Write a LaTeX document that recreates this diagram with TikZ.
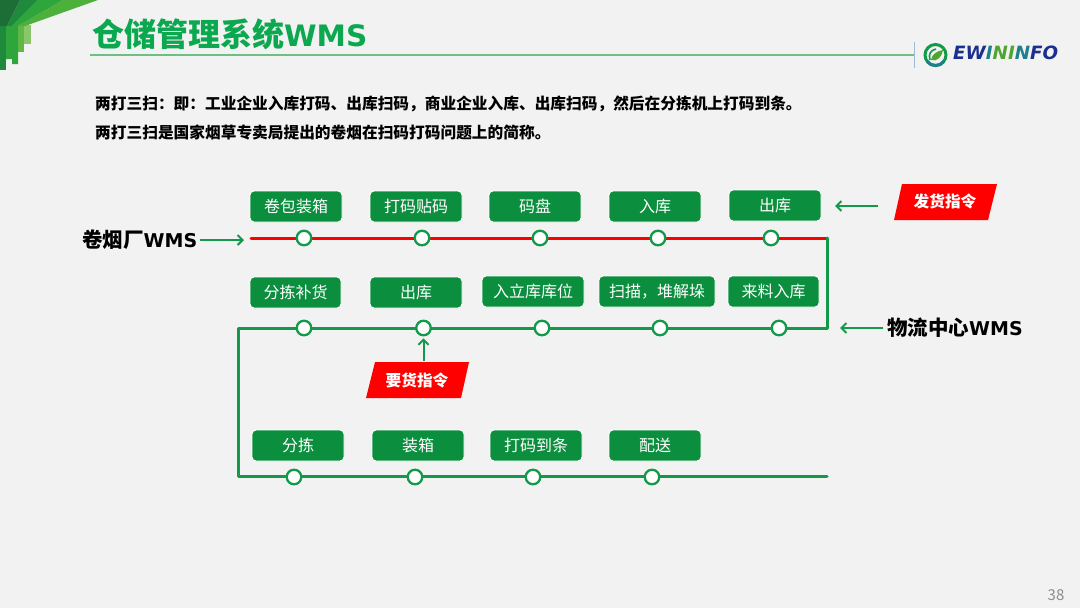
\documentclass[tikz,border=0pt]{standalone}
\usepackage{fontspec}
\setmainfont{Noto Sans CJK SC}
\newfontfamily\latinbold{DejaVu Sans}
\definecolor{bg}{HTML}{F2F2F2}
\definecolor{boxgreen}{HTML}{0B8F3E}
\definecolor{linegreen}{HTML}{12994A}
\definecolor{titlegreen}{HTML}{0BA84F}
\definecolor{rulegreen}{HTML}{6CC084}
\definecolor{redc}{HTML}{FF0000}
\definecolor{tickblue}{HTML}{9DBBD6}
\definecolor{logoblue}{HTML}{1B2F8F}
\definecolor{logoteal}{HTML}{1F7F8A}
\definecolor{logogreen}{HTML}{4FA52F}
\definecolor{c1}{HTML}{1C6E36}
\definecolor{c2}{HTML}{1F8A3C}
\definecolor{c3}{HTML}{2FA63C}
\definecolor{c4}{HTML}{4DB03A}
\definecolor{c5}{HTML}{62B845}
\definecolor{c6}{HTML}{8CC66A}
\tikzset{x=1pt,y=-1pt,
 stepbox/.style={draw=white,line width=0.9pt,fill=boxgreen,rounded corners=4pt,minimum width=92pt,minimum height=31pt,inner sep=0pt,text=white,font=\fontsize{16pt}{17pt}\selectfont},
 stop/.style={circle,draw=linegreen,fill=white,line width=2.3pt,minimum size=14.5pt,inner sep=0pt},
 rail/.style={linegreen,line width=3pt,line cap=round,line join=round},
 redrail/.style={redc,line width=3pt,line cap=round},
 arrowg/.style={linegreen,line width=2pt,-{Straight Barb[length=5pt,width=10pt,line width=2pt]}},
 cmdtext/.style={text=white,font=\fontsize{15.7pt}{17pt}\bfseries\selectfont,inner sep=0pt},
 wmslabel/.style={text=black,font=\fontsize{20.5pt}{22pt}\bfseries\selectfont,inner sep=0pt},
 intro/.style={anchor=west,text=black,font=\fontsize{15.7pt}{17pt}\bfseries\selectfont,inner sep=0pt}
}
\usetikzlibrary{arrows.meta}
\newcommand{\wmsword}[1]{{\latinbold\fontsize{#1}{#1}\bfseries\selectfont WMS}}
\begin{document}
\begin{tikzpicture}
\useasboundingbox (0,0) rectangle (1080,608);
\fill[bg] (0,0) rectangle (1080,608);
% corner decoration
\fill[c6] (24,25) -- (31,25) -- (31,44) -- (24,44) -- cycle;
\fill[c5] (18,26) -- (24,26) -- (24,52) -- (18,52) -- cycle;
\fill[c3] (6,26) -- (18,26) -- (18,64) -- (12,64) -- (12,59) -- (6,59) -- cycle;
\fill[c2] (0,26) -- (6,26) -- (6,70) -- (0,70) -- cycle;
\fill[c4] (63,0) -- (98,0) -- (25,26) -- (18,26) -- cycle;
\fill[c3] (38,0) -- (63,0) -- (18,26) -- (12,26) -- cycle;
\fill[c2] (20,0) -- (38,0) -- (12,26) -- (7,26) -- cycle;
\fill[c1] (0,0) -- (20,0) -- (7,26) -- (0,26) -- cycle;
% title
\node[anchor=west,inner sep=0pt,text=titlegreen,font=\fontsize{32pt}{34pt}\bfseries\selectfont] (title) at (92,34) {仓储管理系统\wmsword{29.5pt}};
\coordinate (ruleL) at (90,55);
\coordinate (ruleR) at (914,55);
\draw[rulegreen,line width=1.2pt] (ruleL) -- (ruleR);
\coordinate (tickT) at (914,42);
\coordinate (tickB) at (914,68);
\draw[tickblue,line width=0.8pt] (tickT) -- (tickB);
% logo
\draw[linegreen,line width=3pt] (935.5,55) circle (10.5);
\draw[logoteal,line width=3pt] (927,61.2) .. controls (931,67) and (940,67) .. (944,61.2);
\fill[logogreen] (931,60) .. controls (932,54) and (937,51) .. (943,50) .. controls (942,57) and (937,62) .. (931,60) -- cycle;
\draw[linegreen,line width=1.6pt] (930,60) .. controls (928,54) and (931,50) .. (936,49);
\node[anchor=west,inner sep=0pt,font=\latinbold\fontsize{18.3pt}{20pt}\bfseries\itshape\selectfont] (logo) at (953,53) {\textcolor{logoblue}{E}\textcolor{logoblue}{W}\textcolor{logoteal}{I}\textcolor{logogreen}{NI}\textcolor{logoteal}{N}\textcolor{logoblue}{FO}};
% intro
\node[intro] (l1) at (95,104) {两打三扫：即：工业企业入库打码、出库扫码，商业企业入库、出库扫码，然后在分拣机上打码到条。};
\node[intro] (l2) at (95,133) {两打三扫是国家烟草专卖局提出的卷烟在扫码打码问题上的简称。};
% row 1 boxes
\node[stepbox] (a1) at (296,206.5) {卷包装箱};
\node[stepbox] (a2) at (416,206.5) {打码贴码};
\node[stepbox] (a3) at (535,206.5) {码盘};
\node[stepbox] (a4) at (655,206.5) {入库};
\node[stepbox] (a5) at (775,205.5) {出库};
% row 2 boxes
\node[stepbox,minimum width=91pt] (b1) at (295.5,292.5) {分拣补货};
\node[stepbox] (b2) at (416,292.5) {出库};
\node[stepbox,minimum width=102pt] (b3) at (533,291.5) {入立库库位};
\node[stepbox,minimum width=116pt] (b4) at (657,291.5) {扫描，堆解垛};
\node[stepbox,minimum width=91pt] (b5) at (773.5,291.5) {来料入库};
% row 3 boxes
\node[stepbox] (c1n) at (298,445.5) {分拣};
\node[stepbox] (c2n) at (418,445.5) {装箱};
\node[stepbox] (c3n) at (536,445.5) {打码到条};
\node[stepbox] (c4n) at (655,445.5) {配送};
% rails
\coordinate (rs) at (251,238);
\coordinate (rc) at (827,238);
\coordinate (gc) at (827,328);
\coordinate (gl) at (238,328);
\coordinate (bl) at (238,476);
\coordinate (be) at (827,476);
\draw[redrail] (rs) -- (rc);
\draw[rail] (rc) -- (gc) -- (gl) -- (bl) -- (be);
% stops
\foreach \n/\x/\y in {s1/304/238,s2/422/238,s3/540/238,s4/658/238,s5/771/238,
 t1/304/328,t2/423.5/328,t3/542/328,t4/660/328,t5/779/328,
 u1/294/477,u2/415/477,u3/533/477,u4/652/477}
 \node[stop] (\n) at (\x,\y) {};
% labels and arrows
\node[wmslabel,anchor=west] (wms1) at (82,240) {卷烟厂\wmsword{19pt}};
\coordinate (w1e) at (244,240);
\draw[arrowg] ([xshift=3pt]wms1.east) -- (w1e);
\node[wmslabel,anchor=west] (wms2) at (887,328) {物流中心\wmsword{19pt}};
\coordinate (w2e) at (840,328);
\draw[arrowg] ([xshift=-4pt]wms2.west) -- (w2e);
% commands
\fill[redc] (902,184) -- (997,184) -- (988,220) -- (894,220) -- cycle;
\node[cmdtext] (cmd1) at (945,201.5) {发货指令};
\coordinate (c1s) at (878,206);
\coordinate (c1e) at (835,206);
\draw[arrowg] (c1s) -- (c1e);
\fill[redc] (375,362) -- (469,362) -- (461,398) -- (366,398) -- cycle;
\node[cmdtext] (cmd2) at (417,380.5) {要货指令};
\coordinate (c2s) at (423.5,361);
\draw[arrowg,shorten >=2pt] (c2s) -- (t2.south);
% page number
\node[text=gray!90,font=\fontsize{15pt}{16pt}\selectfont,inner sep=0pt] (pg) at (1056,595) {38};
\end{tikzpicture}
\end{document}
